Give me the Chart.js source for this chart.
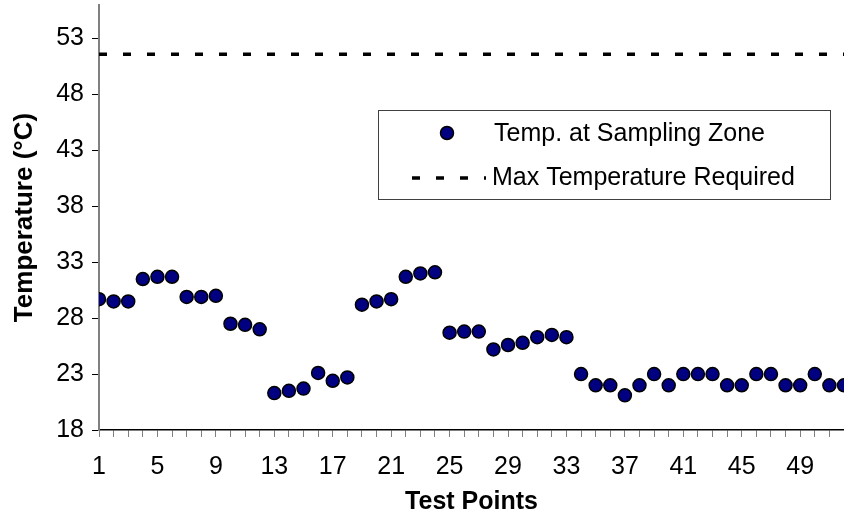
<!DOCTYPE html>
<html>
<head>
<meta charset="utf-8">
<script src="https://cdn.jsdelivr.net/npm/chart.js@4.4.0/dist/chart.umd.min.js"></script>
<style>
  html, body { margin: 0; padding: 0; background: #fff; }
  #wrap { width: 844px; height: 517px; }
</style>
</head>
<body>
<div id="wrap"><canvas id="myChart" width="844" height="517"></canvas></div>
<script>
// test point numbers 1..52
const testPoints = [1, 2, 3, 4, 5, 6, 7, 8, 9, 10, 11, 12, 13, 14, 15, 16, 17, 18, 19, 20,
  21, 22, 23, 24, 25, 26, 27, 28, 29, 30, 31, 32, 33, 34, 35, 36, 37, 38, 39, 40,
  41, 42, 43, 44, 45, 46, 47, 48, 49, 50, 51, 52];
const temps = [29.7, 29.5, 29.5, 31.5, 31.7, 31.7, 29.9, 29.9, 30.0, 27.5,
  27.4, 27.0, 21.3, 21.5, 21.7, 23.1, 22.4, 22.7, 29.2, 29.5,
  29.7, 31.7, 32.0, 32.1, 26.7, 26.8, 26.8, 25.2, 25.6, 25.8,
  26.3, 26.5, 26.3, 23.0, 22.0, 22.0, 21.1, 22.0, 23.0, 22.0,
  23.0, 23.0, 23.0, 22.0, 22.0, 23.0, 23.0, 22.0, 22.0, 23.0,
  22.0, 22.0];
const maxTemp = 51.6;
const xLabels = [1, 5, 9, 13, 17, 21, 25, 29, 33, 37, 41, 45, 49];
const yTicks = [18, 23, 28, 33, 38, 43, 48, 53];

const FONT = "'Liberation Sans', Arial, sans-serif";

// legend box drawn inside the plot, like the excel one
const boxLegend = {
  id: 'boxLegend',
  afterDraw(chart) {
    const ctx = chart.ctx;
    const ds = chart.data.datasets;
    ctx.save();
    ctx.fillStyle = '#fff';
    ctx.fillRect(378, 110, 452, 89);
    ctx.strokeStyle = '#404040';
    ctx.lineWidth = 1;
    ctx.strokeRect(378.5, 110.5, 452, 89);

    // marker
    ctx.beginPath();
    ctx.arc(447, 133, 6.5, 0, Math.PI * 2);
    ctx.fillStyle = ds[0].backgroundColor;
    ctx.fill();
    ctx.lineWidth = ds[0].borderWidth;
    ctx.strokeStyle = ds[0].borderColor;
    ctx.stroke();

    // dashes
    ctx.beginPath();
    ctx.setLineDash(ds[1].borderDash);
    ctx.lineWidth = ds[1].borderWidth;
    ctx.strokeStyle = ds[1].borderColor;
    ctx.moveTo(412, 178);
    ctx.lineTo(486, 178);
    ctx.stroke();
    ctx.setLineDash([]);

    ctx.fillStyle = '#000';
    ctx.font = '25px ' + FONT;
    ctx.textBaseline = 'middle';
    ctx.textAlign = 'left';
    ctx.fillText(ds[0].label, 494, 134);
    ctx.fillText(ds[1].label, 492, 178);
    ctx.restore();
  }
};

var ctx = document.getElementById('myChart');

var myChart = new Chart(ctx, {
  type: 'scatter',
  data: {
    datasets: [{
      label: 'Temp. at Sampling Zone',
      data: testPoints.map((x, i) => ({x: x, y: temps[i]})),
      pointRadius: 6.5,
      backgroundColor: '#000080',
      borderColor: '#000',
      borderWidth: 1.5,
      showLine: false
    }, {
      label: 'Max Temperature Required',
      data: [{x: testPoints[0], y: maxTemp}, {x: testPoints[testPoints.length - 1], y: maxTemp}],
      showLine: true,
      borderColor: '#000',
      backgroundColor: '#000',
      borderWidth: 3.5,
      borderDash: [8, 16],
      pointRadius: 0
    }]
  },
  options: {
    responsive: false,
    animation: false,
    layout: { autoPadding: false, padding: { top: 5, right: 0, left: 0, bottom: 0 } },
    plugins: {
      legend: { display: false },
      tooltip: { enabled: false }
    },
    scales: {
      x: {
        type: 'linear',
        min: 1,
        max: 52,
        afterBuildTicks: s => { s.ticks = testPoints.map(v => ({value: v})); },
        afterFit: s => { s.height = 87; s.paddingLeft = 0; s.paddingRight = 0; },
        ticks: {
          autoSkip: false,
          maxRotation: 0,
          callback: v => xLabels.includes(v) ? String(v) : '',
          font: { family: FONT, size: 25 },
          color: '#000',
          padding: 15
        },
        grid: { drawOnChartArea: false, drawTicks: true, tickLength: 7, color: '#808080' },
        border: { color: '#000', width: 1.5 },
        title: {
          display: true,
          text: 'Test Points',
          font: { family: FONT, size: 25, weight: 'bold' },
          color: '#000',
          padding: { top: 0, bottom: 0 }
        }
      },
      y: {
        type: 'linear',
        min: 18,
        max: 56,
        afterBuildTicks: s => { s.ticks = yTicks.map(v => ({value: v})); },
        afterFit: s => { s.width = 99; s.paddingTop = 0; s.paddingBottom = 0; },
        ticks: {
          font: { family: FONT, size: 25 },
          color: '#000',
          padding: 8
        },
        grid: { drawOnChartArea: false, drawTicks: true, tickLength: 7, color: '#000' },
        border: { color: '#808080', width: 2 },
        title: {
          display: true,
          text: 'Temperature (°C)',
          font: { family: FONT, size: 26, weight: 'bold' },
          color: '#000',
          padding: { top: 9, bottom: 0 }
        }
      }
    }
  },
  plugins: [boxLegend]
});
</script>
</body>
</html>
